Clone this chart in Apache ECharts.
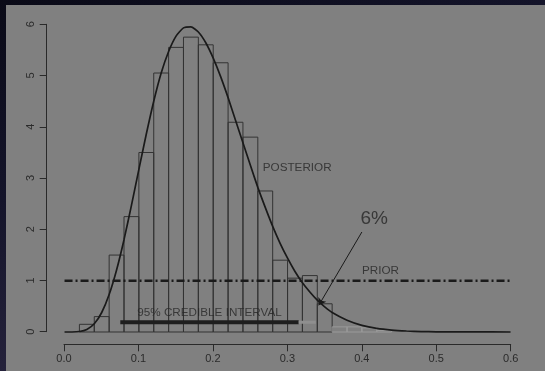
<!DOCTYPE html>
<html>
<head>
<meta charset="utf-8">
<script src="https://cdn.jsdelivr.net/npm/echarts@6/dist/echarts.min.js"></script>
<style>
html,body{margin:0;padding:0;width:545px;height:371px;overflow:hidden;}
body{background:linear-gradient(160deg,#0a0a17 0%,#14142a 35%,#2a2640 75%,#363050 100%);}
#chart{position:absolute;left:6px;top:5px;width:539px;height:366px;background:#808080;}
</style>
</head>
<body>
<div id="chart"></div>
<script>
// Histogram bins (left edges, width 0.02) and heights (density)
var binLeft = [0.02,0.04,0.06,0.08,0.10,0.12,0.14,0.16,0.18,0.20,0.22,0.24,0.26,0.28,0.30,0.32,0.34,0.36,0.38,0.40,0.42];
var binHeight = [0.15,0.30,1.50,2.25,3.50,5.05,5.55,5.75,5.60,5.25,4.09,3.80,2.75,1.40,1.05,1.10,0.55,0.10,0.10,0.08,0.03];
var binWidth = 0.02;

// Posterior density curve
var curveX = [0,0.01,0.02,0.03,0.04,0.05,0.06,0.07,0.08,0.09,0.10,0.11,0.12,0.13,0.14,0.15,0.16,0.17,0.18,0.19,0.20,0.21,0.22,0.23,0.24,0.25,0.26,0.27,0.28,0.29,0.30,0.31,0.32,0.33,0.34,0.35,0.36,0.38,0.40,0.42,0.44,0.46,0.48,0.50,0.55,0.60];
var curveY = [0,0.0003,0.009,0.05,0.16,0.38,0.73,1.21,1.80,2.47,3.17,3.86,4.50,5.05,5.47,5.77,5.93,5.95,5.85,5.64,5.34,4.98,4.57,4.13,3.69,3.25,2.82,2.43,2.06,1.73,1.44,1.18,0.96,0.78,0.62,0.49,0.38,0.23,0.13,0.07,0.037,0.019,0.009,0.004,0.001,0];

// Prior (uniform) line
var priorX = [0, 0.6];
var priorY = [1, 1];

// 95% credible interval
var ciX = [0.075, 0.315];
var ciTailX = [0.315, 0.338];
var ciY = 0.19;

// Arrow for "6%" annotation: [from, to]
var arrowFrom = [0.400, 1.95];
var arrowTo = [0.342, 0.52];

// Text annotations
var notes = [
  {text: 'POSTERIOR', x: 0.313, y: 3.2, size: 11.7},
  {text: 'PRIOR', x: 0.425, y: 1.19, size: 11.7},
  {text: '6%', x: 0.4165, y: 2.2, size: 19},
  {text: '95% CREDIBLE INTERVAL', x: 0.195, y: 0.37, size: 11.7}
];

var xTicks = [0, 0.1, 0.2, 0.3, 0.4, 0.5, 0.6];
var yTicks = [0, 1, 2, 3, 4, 5, 6];

var FONT = '"Liberation Sans", Arial, Helvetica, sans-serif';
var INK = '#1a1a1a';
var chart = echarts.init(document.getElementById('chart'), null, {renderer: 'canvas'});

var histData = binLeft.map(function (l, i) { return [l, l + binWidth, binHeight[i]]; });

var option = {
  animation: false,
  grid: [
    {left: 40.7, right: 16.6, top: 7, bottom: 26.7},
    {left: 58, right: 34.3, top: 7, bottom: 26.7},
    {left: 40.7, right: 16.6, top: 19.3, bottom: 39.3}
  ],
  xAxis: [
    {gridIndex: 0, type: 'value', min: -0.024, max: 0.624, show: false},
    {gridIndex: 1, type: 'value', min: 0, max: 0.6, interval: 0.1, position: 'bottom',
      axisLine: {show: true, lineStyle: {color: '#2a2a2a', width: 1}},
      axisTick: {show: true, length: 7, lineStyle: {color: '#2a2a2a'}},
      splitLine: {show: false},
      axisLabel: {margin: 9, color: '#2a2a2a', fontSize: 11, fontFamily: FONT,
        formatter: function (v) { return v.toFixed(1); }}},
    {gridIndex: 2, type: 'value', min: 0, max: 1, show: false}
  ],
  yAxis: [
    {gridIndex: 0, type: 'value', min: -0.24, max: 6.24, show: false},
    {gridIndex: 1, type: 'value', min: 0, max: 1, show: false},
    {gridIndex: 2, type: 'value', min: 0, max: 6, interval: 1, position: 'left',
      axisLine: {show: true, lineStyle: {color: '#2a2a2a', width: 1}},
      axisTick: {show: true, length: 7, lineStyle: {color: '#2a2a2a'}},
      splitLine: {show: false},
      axisLabel: {margin: 10, rotate: 90, color: '#2a2a2a', fontSize: 11, fontFamily: FONT}}
  ],
  series: [
    {
      type: 'custom', xAxisIndex: 0, yAxisIndex: 0, data: histData,
      renderItem: function (params, api) {
        var p0 = api.coord([api.value(0), api.value(2)]);
        var p1 = api.coord([api.value(1), 0]);
        var tail = api.value(0) >= 0.359;
        return {
          type: 'rect',
          shape: {x: p0[0], y: p0[1], width: p1[0] - p0[0], height: p1[1] - p0[1]},
          style: {fill: 'none', stroke: tail ? '#9a9a9a' : '#333333', lineWidth: 1}
        };
      },
      z: 1
    },
    {
      type: 'line', xAxisIndex: 0, yAxisIndex: 0, showSymbol: false, smooth: 0.2,
      data: curveX.map(function (x, i) { return [x, curveY[i]]; }),
      lineStyle: {color: INK, width: 1.7}, z: 3
    },
    {
      type: 'line', xAxisIndex: 0, yAxisIndex: 0, showSymbol: false,
      data: priorX.map(function (x, i) { return [x, priorY[i]]; }),
      lineStyle: {color: INK, width: 2.6, type: [8, 3, 2, 3]}, z: 3
    },
    {
      type: 'line', xAxisIndex: 0, yAxisIndex: 0, showSymbol: false,
      data: ciX.map(function (x) { return [x, ciY]; }),
      lineStyle: {color: '#1e1e1e', width: 4, cap: 'butt'}, z: 4
    },
    {
      type: 'line', xAxisIndex: 0, yAxisIndex: 0, showSymbol: false,
      data: ciTailX.map(function (x) { return [x, ciY]; }),
      lineStyle: {color: '#8f8f8f', width: 3, cap: 'butt'}, z: 4
    },
    {
      type: 'lines', coordinateSystem: 'cartesian2d', xAxisIndex: 0, yAxisIndex: 0,
      symbol: ['none', 'arrow'], symbolSize: 7,
      data: [{coords: [arrowFrom, arrowTo]}],
      lineStyle: {color: INK, width: 1, opacity: 1}, z: 5
    },
    {
      type: 'scatter', xAxisIndex: 0, yAxisIndex: 0, symbolSize: 0,
      data: notes.map(function (n) {
        return {value: [n.x, n.y], label: {show: true, position: 'inside', formatter: n.text,
          fontSize: n.size, color: '#262626', fontFamily: FONT}};
      }),
      z: 6
    }
  ]
};
chart.setOption(option);
</script>
</body>
</html>
